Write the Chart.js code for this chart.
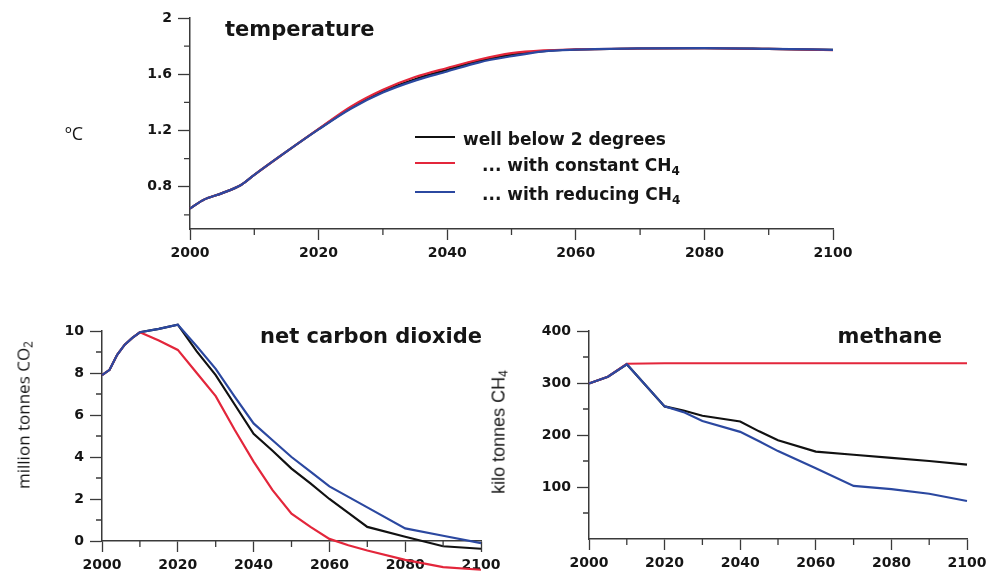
<!DOCTYPE html>
<html>
<head>
<meta charset="utf-8">
<script src="https://cdn.jsdelivr.net/npm/chart.js@4.4.1/dist/chart.umd.min.js"></script>
<style>
body { margin: 0; width: 987px; height: 572px; background: #fff; position: relative; overflow: hidden; }
canvas { position: absolute; }
.txt { position: absolute; white-space: nowrap; line-height: 1; color: #151515; }
.title { font: bold 21px "DejaVu Sans"; }
.key { position: absolute; width: 40px; height: 2px; }
.leg { font: bold 17px "DejaVu Sans"; }
.leg sub { font-size: 12px; vertical-align: -4px; line-height: 0; }
.ylab { transform: translate(-50%, -50%) rotate(-90deg); }
.ylab sub { font-size: 12px; vertical-align: -3px; line-height: 0; }
</style>
</head>
<body>
<canvas id="temp" width="987" height="275" style="left:0;top:0"></canvas>
<canvas id="co2" width="520" height="290" style="left:0;top:290px"></canvas>
<canvas id="ch4" width="520" height="290" style="left:490px;top:290px"></canvas>

<div class="txt title" style="left:225px;top:17px">temperature</div>
<div class="txt title" style="right:505px;top:324px">net carbon dioxide</div>
<div class="txt title" style="right:45px;top:324px">methane</div>

<div class="txt" style="left:65px;top:121px;font:18px 'Open Sans'">ºC</div>
<div class="txt ylab" style="left:23px;top:415px;font:17px 'Open Sans'">million tonnes CO<sub>2</sub></div>
<div class="txt ylab" style="left:499px;top:432px;font:18px 'Liberation Sans'">kilo tonnes CH<sub>4</sub></div>

<div class="key" style="left:415px;top:136px;background:#111"></div>
<div class="key" style="left:415px;top:162px;background:#e3263b"></div>
<div class="key" style="left:415px;top:191px;background:#2b48a0"></div>
<div class="txt leg" style="left:463px;top:129px">well below 2 degrees</div>
<div class="txt leg" style="left:482px;top:155px">... with constant CH<sub>4</sub></div>
<div class="txt leg" style="left:482px;top:184px">... with reducing CH<sub>4</sub></div>

<script>
// series names / colours
const names = ["well below 2 degrees", "... with constant CH4", "... with reducing CH4"];
const colors = ["#111111", "#e3263b", "#2b48a0"];

// temperature (ºC)
const tempYears = [2000, 2002, 2005, 2008, 2010, 2015, 2020, 2025, 2030, 2035, 2040, 2045, 2050, 2055, 2060, 2070, 2080, 2090, 2100];
const tempBelow2 = [0.645, 0.705, 0.755, 0.815, 0.885, 1.05, 1.21, 1.36, 1.48, 1.565, 1.632, 1.695, 1.74, 1.765, 1.775, 1.783, 1.785, 1.78, 1.773];
const tempConstCH4 = [0.645, 0.705, 0.755, 0.815, 0.885, 1.05, 1.212, 1.37, 1.49, 1.58, 1.645, 1.705, 1.75, 1.77, 1.777, 1.783, 1.785, 1.78, 1.772];
const tempReduceCH4 = [0.645, 0.705, 0.755, 0.815, 0.885, 1.05, 1.208, 1.355, 1.47, 1.555, 1.62, 1.685, 1.728, 1.763, 1.775, 1.784, 1.786, 1.781, 1.774];

// net carbon dioxide (million tonnes CO2)
const co2Years = [2000, 2002, 2004, 2006, 2008, 2010, 2015, 2020, 2025, 2030, 2035, 2040, 2045, 2050, 2055, 2060, 2065, 2070, 2080, 2090, 2100];
const co2Below2 = [7.9, 8.15, 8.87, 9.35, 9.67, 9.94, 10.1, 10.3, 9.03, 7.9, 6.5, 5.1, 4.3, 3.45, 2.74, 2.0, 1.34, 0.67, 0.2, -0.25, -0.37];
const co2ConstCH4 = [7.9, 8.15, 8.87, 9.35, 9.67, 9.94, 9.55, 9.1, 8.0, 6.9, 5.3, 3.78, 2.42, 1.3, 0.67, 0.1, -0.2, -0.45, -0.9, -1.24, -1.37];
const co2ReduceCH4 = [7.9, 8.15, 8.87, 9.35, 9.67, 9.94, 10.1, 10.3, 9.27, 8.2, 6.88, 5.6, 4.8, 4.0, 3.3, 2.6, 2.1, 1.6, 0.6, 0.25, -0.1];

// methane (kilo tonnes CH4)
const ch4Years = [2000, 2005, 2010, 2020, 2025, 2030, 2040, 2045, 2050, 2060, 2070, 2080, 2090, 2100];
const ch4Below2 = [299, 312, 336, 255, 247, 237, 226, 207, 190, 168, 162, 156, 150, 143];
const ch4ConstCH4 = [299, 312, 337, 338, 338, 338, 338, 338, 338, 338, 338, 338, 338, 338];
const ch4ReduceCH4 = [299, 312, 336, 255, 244, 227, 206, 188, 169, 136, 102, 96, 87, 73];

// ticks
const yearTicks = [2000, 2020, 2040, 2060, 2080, 2100];
const yearMinor = [2010, 2030, 2050, 2070, 2090];
const tempTicks = [0.8, 1.2, 1.6, 2];
const tempMinor = [0.6, 1.0, 1.4, 1.8];
const co2Ticks = [0, 2, 4, 6, 8, 10];
const co2Minor = [1, 3, 5, 7, 9];
const ch4Ticks = [100, 200, 300, 400];
const ch4Minor = [50, 150, 250, 350];

const axisColor = "#3a3a3a";
const tickFont = { family: "DejaVu Sans", size: 14, weight: "bold" };

// short minor ticks, drawn at scale positions
const minorTicks = {
    id: "minorTicks",
    afterDraw(chart, args, opts) {
        const ctx = chart.ctx;
        const xs = chart.scales.x, ys = chart.scales.y;
        ctx.save();
        ctx.strokeStyle = axisColor;
        ctx.lineWidth = 1.3;
        ctx.beginPath();
        opts.x.forEach(v => {
            const px = xs.getPixelForValue(v);
            ctx.moveTo(px, xs.top);
            ctx.lineTo(px, xs.top + 6);
        });
        opts.y.forEach(v => {
            const py = ys.getPixelForValue(v);
            ctx.moveTo(ys.right, py);
            ctx.lineTo(ys.right - 6, py);
        });
        ctx.stroke();
        ctx.restore();
    }
};

function toPoints(years, vals) {
    return years.map((yr, i) => ({ x: yr, y: vals[i] }));
}

function makeChart(id, years, series, o) {
    const datasets = series.map((vals, i) => ({
        label: names[i],
        data: toPoints(years, vals),
        borderColor: colors[i],
        borderWidth: 2.2,
        pointRadius: 0,
        tension: o.tension,
        cubicInterpolationMode: o.tension ? "monotone" : "default",
        order: series.length - i, // blue drawn on top, black underneath
        clip: false
    }));

    return new Chart(document.getElementById(id), {
        type: "line",
        data: { datasets: datasets },
        plugins: [minorTicks],
        options: {
            responsive: false,
            animation: false,
            layout: { padding: o.pad },
            plugins: {
                legend: { display: false },
                tooltip: { enabled: false },
                minorTicks: { x: yearMinor, y: o.minor }
            },
            scales: {
                x: {
                    type: "linear",
                    min: 2000,
                    max: 2100,
                    afterBuildTicks: s => { s.ticks = yearTicks.map(v => ({ value: v })); },
                    afterFit: s => { s.height = o.xh; },
                    ticks: { font: tickFont, color: "#151515", padding: 5, maxRotation: 0, callback: v => String(v) },
                    grid: { drawOnChartArea: false, tickLength: 11, color: axisColor, tickWidth: 1.3 },
                    border: { color: axisColor, width: 1.5 }
                },
                y: {
                    min: o.min,
                    max: o.max,
                    afterBuildTicks: s => { s.ticks = o.ticks.map(v => ({ value: v })); },
                    afterFit: s => { s.width = o.yw; },
                    ticks: { font: tickFont, color: "#151515", padding: 6, callback: v => String(v) },
                    grid: { drawOnChartArea: false, tickLength: 12, color: axisColor, tickWidth: 1.3 },
                    border: { color: axisColor, width: 1.5 }
                }
            }
        }
    });
}

makeChart("temp", tempYears, [tempBelow2, tempConstCH4, tempReduceCH4], {
    min: 0.5, max: 2, ticks: tempTicks, minor: tempMinor, tension: 0.4,
    yw: 190, xh: 40, pad: { left: 0, top: 18, right: 154, bottom: 6 }
});

makeChart("co2", co2Years, [co2Below2, co2ConstCH4, co2ReduceCH4], {
    min: 0, max: 10, ticks: co2Ticks, minor: co2Minor, tension: 0,
    yw: 102, xh: 39, pad: { left: 0, top: 41, right: 39, bottom: 0 }
});

makeChart("ch4", ch4Years, [ch4Below2, ch4ConstCH4, ch4ReduceCH4], {
    min: 0, max: 400, ticks: ch4Ticks, minor: ch4Minor, tension: 0,
    yw: 99, xh: 41, pad: { left: 0, top: 41, right: 43, bottom: 0 }
});
</script>
</body>
</html>
